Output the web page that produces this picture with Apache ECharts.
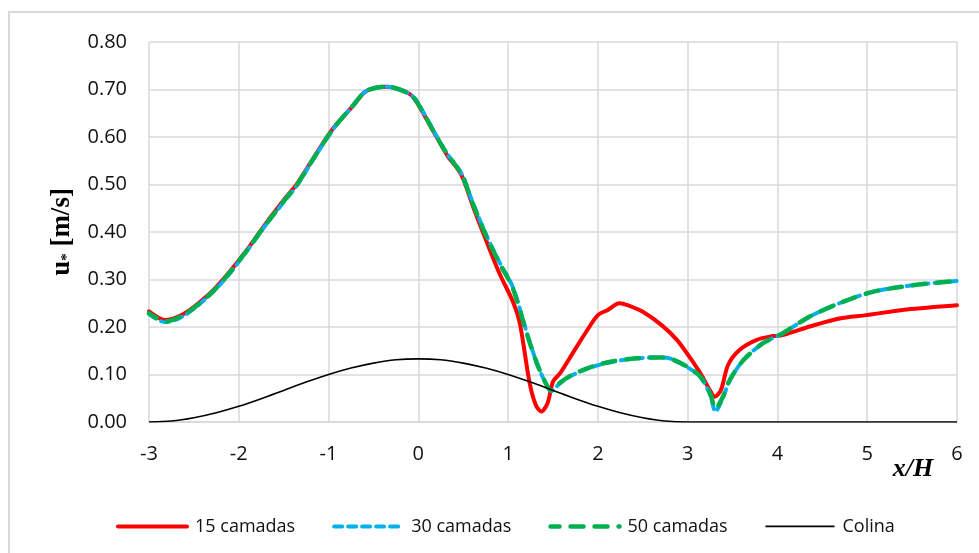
<!DOCTYPE html>
<html>
<head>
<meta charset="utf-8">
<script src="https://cdn.jsdelivr.net/npm/echarts@6/dist/echarts.min.js"></script>
<style>
  html, body { margin: 0; padding: 0; background: #fff; }
  #chart { width: 979px; height: 553px; }
</style>
</head>
<body>
<div id="chart"></div>
<script>
// Friction velocity u* [m/s] along x/H for three mesh resolutions, with the hill profile.
const xTicks = [-3, -2, -1, 0, 1, 2, 3, 4, 5, 6];
const yTicks = [0.0, 0.1, 0.2, 0.3, 0.4, 0.5, 0.6, 0.7, 0.8];

const seriesNames = ['15 camadas', '30 camadas', '50 camadas', 'Colina'];

// [x/H, u*]
const camadas15 = [
  [-3.00, 0.233], [-2.82, 0.215], [-2.60, 0.229], [-2.32, 0.271], [-2.13, 0.310],
  [-1.91, 0.362], [-1.71, 0.415], [-1.47, 0.474], [-1.36, 0.499], [-1.17, 0.555],
  [-0.95, 0.618], [-0.72, 0.667], [-0.58, 0.697], [-0.35, 0.706], [-0.11, 0.692],
  [-0.02, 0.674], [0.17, 0.611], [0.32, 0.562], [0.48, 0.520], [0.61, 0.453],
  [0.76, 0.380], [0.91, 0.310], [1.05, 0.255], [1.13, 0.208], [1.24, 0.082],
  [1.31, 0.035], [1.37, 0.022], [1.44, 0.040], [1.50, 0.085], [1.58, 0.103],
  [1.72, 0.145], [1.87, 0.190], [2.00, 0.225], [2.11, 0.236], [2.24, 0.250],
  [2.33, 0.246], [2.50, 0.232], [2.71, 0.204], [2.88, 0.173], [3.02, 0.137],
  [3.15, 0.100], [3.25, 0.066], [3.30, 0.053], [3.37, 0.067], [3.45, 0.120],
  [3.58, 0.152], [3.77, 0.173], [3.95, 0.181], [4.06, 0.183], [4.36, 0.201],
  [4.69, 0.218], [4.99, 0.225], [5.44, 0.237], [6.00, 0.246]
];

const camadas30 = [
  [-3.00, 0.227], [-2.82, 0.210], [-2.60, 0.225], [-2.32, 0.268], [-2.13, 0.306],
  [-1.91, 0.360], [-1.71, 0.412], [-1.47, 0.470], [-1.36, 0.496], [-1.17, 0.553],
  [-0.95, 0.616], [-0.72, 0.668], [-0.58, 0.697], [-0.35, 0.706], [-0.11, 0.692],
  [-0.02, 0.676], [0.17, 0.613], [0.32, 0.565], [0.48, 0.523], [0.61, 0.460],
  [0.76, 0.392], [0.91, 0.334], [1.05, 0.285], [1.21, 0.187], [1.32, 0.124],
  [1.41, 0.085], [1.48, 0.065], [1.58, 0.082], [1.72, 0.099], [1.94, 0.116],
  [2.17, 0.127], [2.43, 0.134], [2.69, 0.136], [2.80, 0.134], [2.99, 0.116],
  [3.14, 0.095], [3.25, 0.058], [3.31, 0.022], [3.39, 0.050], [3.47, 0.088],
  [3.62, 0.130], [3.84, 0.166], [4.06, 0.187], [4.36, 0.222], [4.69, 0.250],
  [5.06, 0.274], [5.51, 0.288], [6.00, 0.297]
];

const camadas50 = [
  [-3.00, 0.229], [-2.82, 0.212], [-2.60, 0.227], [-2.32, 0.269], [-2.13, 0.308],
  [-1.91, 0.361], [-1.71, 0.413], [-1.47, 0.472], [-1.36, 0.497], [-1.17, 0.554],
  [-0.95, 0.617], [-0.72, 0.668], [-0.58, 0.697], [-0.35, 0.706], [-0.11, 0.692],
  [-0.02, 0.675], [0.17, 0.612], [0.32, 0.564], [0.48, 0.522], [0.61, 0.458],
  [0.76, 0.390], [0.91, 0.332], [1.05, 0.283], [1.21, 0.185], [1.32, 0.124],
  [1.41, 0.085], [1.48, 0.066], [1.58, 0.083], [1.72, 0.100], [1.94, 0.117],
  [2.17, 0.128], [2.43, 0.134], [2.69, 0.136], [2.80, 0.134], [2.99, 0.117],
  [3.14, 0.096], [3.25, 0.060], [3.31, 0.028], [3.39, 0.052], [3.47, 0.089],
  [3.62, 0.130], [3.84, 0.166], [4.06, 0.187], [4.36, 0.222], [4.69, 0.250],
  [5.06, 0.274], [5.51, 0.288], [6.00, 0.297]
];

const colina = [
  [-3.00, 0.000], [-2.75, 0.002], [-2.50, 0.009], [-2.25, 0.0195], [-2.00, 0.033],
  [-1.75, 0.049], [-1.50, 0.0665], [-1.25, 0.084], [-1.00, 0.100], [-0.75, 0.1135],
  [-0.50, 0.124], [-0.25, 0.131], [0.00, 0.133], [0.25, 0.131], [0.50, 0.124],
  [0.75, 0.1135], [1.00, 0.100], [1.25, 0.084], [1.50, 0.0665], [1.75, 0.049],
  [2.00, 0.033], [2.25, 0.0195], [2.50, 0.009], [2.75, 0.002], [3.00, 0.000],
  [4.50, 0.000], [6.00, 0.000]
];

const chart = echarts.init(document.getElementById('chart'), null, { renderer: 'canvas' });

const tickFont = 'Open Sans';
const gridColor = '#d9d9d9';

const styles = {
  red:   { color: '#ff0000', width: 4, cap: 'round', join: 'round' },
  blue:  { color: '#00b0f0', width: 4, type: [8, 6], cap: 'round' },
  green: { color: '#00b050', width: 4.5, type: [13, 11], dashOffset: 4, cap: 'round' },
  hill:  { color: '#000000', width: 1.6 }
};

chart.setOption({
  animation: false,
  backgroundColor: '#ffffff',
  grid: { left: 149, right: 22, top: 42, bottom: 131, containLabel: false },
  xAxis: {
    type: 'value',
    min: xTicks[0],
    max: xTicks[xTicks.length - 1],
    interval: 1,
    axisLine: { show: true, lineStyle: { color: gridColor, width: 1.5 } },
    axisTick: { show: false },
    splitLine: { show: true, lineStyle: { color: gridColor, width: 1.5 } },
    axisLabel: { color: '#111', fontFamily: tickFont, fontSize: 20, margin: 22 }
  },
  yAxis: {
    type: 'value',
    min: yTicks[0],
    max: yTicks[yTicks.length - 1],
    interval: 0.1,
    axisLine: { show: false },
    axisTick: { show: false },
    splitLine: { show: true, lineStyle: { color: gridColor, width: 1.5 } },
    axisLabel: {
      color: '#111', fontFamily: tickFont, fontSize: 20, margin: 22,
      formatter: v => v.toFixed(2)
    }
  },
  legend: {
    left: 111,
    top: 511,
    itemWidth: 69,
    itemHeight: 26,
    itemGap: 37,
    itemStyle: { opacity: 0 },
    textStyle: { color: '#111', fontFamily: tickFont, fontSize: 18, padding: [0, 0, 0, 3] },
    data: [
      { name: seriesNames[0], lineStyle: { width: 4 } },
      { name: seriesNames[1], lineStyle: { width: 4 } },
      { name: seriesNames[2], lineStyle: { width: 4.5 } },
      { name: seriesNames[3], lineStyle: { width: 1.6 } }
    ]
  },
  graphic: [
    {
      type: 'rect',
      silent: true,
      shape: { x: 9, y: 12, width: 1100, height: 700 },
      style: { fill: 'none', stroke: gridColor, lineWidth: 2 },
      z: -10
    },
    {
      type: 'text',
      silent: true,
      x: 62, y: 232,
      rotation: Math.PI / 2,
      style: {
        text: '{u|u}{s|*}{u| [m/s]}',
        align: 'center',
        verticalAlign: 'middle',
        rich: {
          u: { fontFamily: 'Liberation Serif', fontWeight: 'bold', fontSize: 27, fill: '#000' },
          s: { fontFamily: 'Liberation Serif', fontWeight: 'bold', fontSize: 15, fill: '#000', padding: [10, 0, 0, 0] }
        }
      }
    },
    {
      type: 'text',
      silent: true,
      x: 913, y: 469,
      style: {
        text: 'x/H',
        align: 'center',
        verticalAlign: 'middle',
        fontFamily: 'Liberation Serif',
        fontWeight: 'bold',
        fontStyle: 'italic',
        fontSize: 26,
        fill: '#000'
      }
    }
  ],
  series: [
    {
      name: seriesNames[0], type: 'line', data: camadas15, symbol: 'none',
      smooth: 0.3, color: '#ff0000', lineStyle: styles.red, z: 2
    },
    {
      name: seriesNames[1], type: 'line', data: camadas30, symbol: 'none',
      smooth: 0.3, color: '#00b0f0', lineStyle: styles.blue, z: 3
    },
    {
      name: seriesNames[2], type: 'line', data: camadas50, symbol: 'none',
      smooth: 0.3, color: '#00b050', lineStyle: styles.green, z: 4
    },
    {
      name: seriesNames[3], type: 'line', data: colina, symbol: 'none',
      smooth: 0.3, color: '#000000', lineStyle: styles.hill, z: 5
    }
  ]
});
</script>
</body>
</html>
